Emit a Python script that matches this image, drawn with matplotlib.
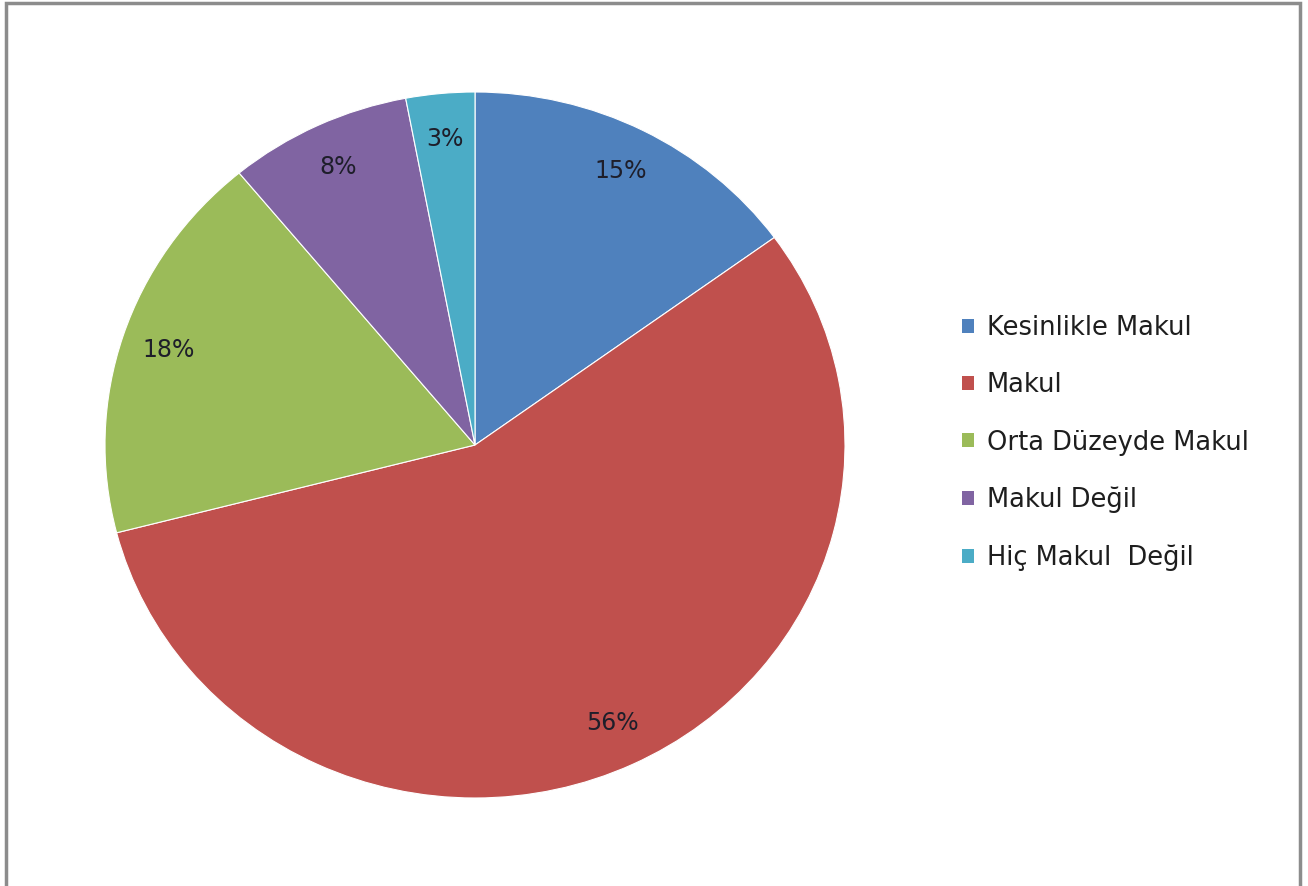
import matplotlib.pyplot as plt
from matplotlib.patches import Patch, Rectangle

labels = ["Kesinlikle Makul", "Makul", "Orta Düzeyde Makul", "Makul Değil", "Hiç Makul  Değil"]
values = [15, 56, 18, 8, 3]
colors = ["#4F81BD", "#C0504D", "#9BBB59", "#8064A2", "#4BACC6"]

plt.rcParams["font.family"] = ["DejaVu Sans"]

fig = plt.figure(figsize=(13.08, 8.86), dpi=100)

# outer chart border
fig.patches.append(Rectangle((6 / 1308, -0.01), 1294 / 1308, 1 - 3 / 886 + 0.01,
                             transform=fig.transFigure, fill=False,
                             edgecolor="#8c8c8c", linewidth=2.5))

ax = fig.add_axes([105 / 1308, 1 - 798 / 886, 740 / 1308, 706 / 886])
wedges, texts, autotexts = ax.pie(
    values,
    colors=colors,
    startangle=90,
    counterclock=False,
    autopct="%d%%",
    pctdistance=0.87,
    radius=1,
    wedgeprops=dict(edgecolor="white", linewidth=0.8),
    textprops=dict(fontsize=17, color="#1e1e2a"),
)
ax.set_aspect("auto")
ax.set_xlim(-1, 1)
ax.set_ylim(-1, 1)

handles = [Patch(facecolor=c, edgecolor="none") for c in colors]
fig.legend(handles, labels, loc="center left", bbox_to_anchor=(962 / 1308, 1 - 443 / 886),
           frameon=False, fontsize=18.5, handlelength=0.47, handleheight=0.47,
           handletextpad=0.5, labelspacing=1.22, borderpad=0, borderaxespad=0,
           labelcolor="#1e1e1e")

fig.savefig("out.png", dpi=100)
